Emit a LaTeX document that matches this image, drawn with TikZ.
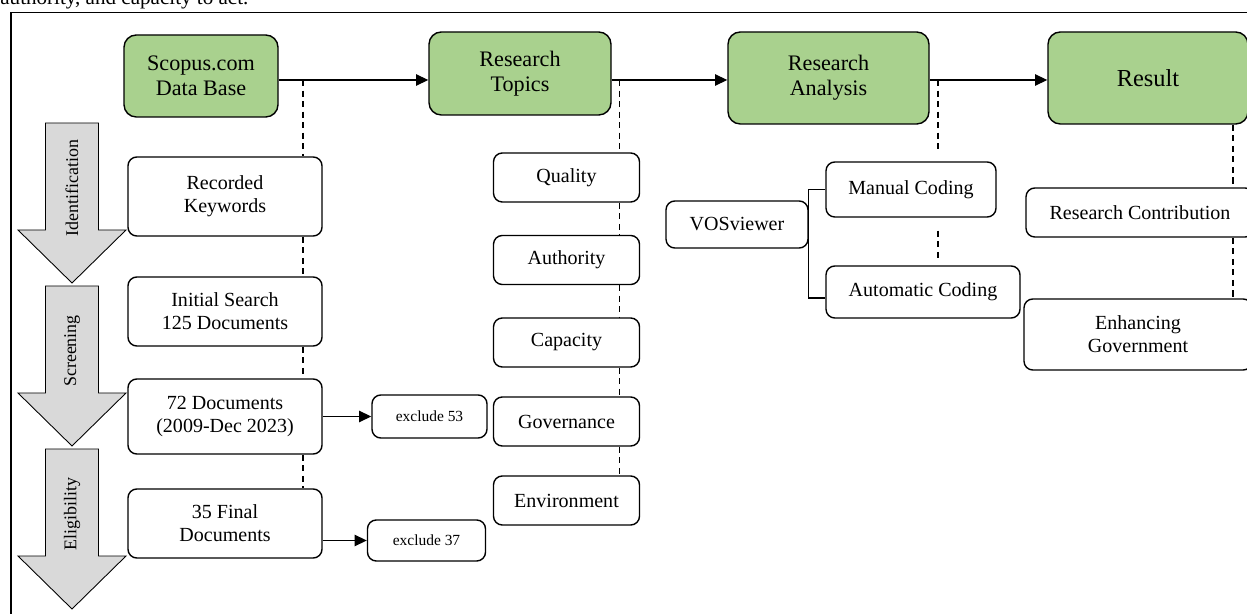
\documentclass[tikz,border=0pt]{standalone}
\usepackage{fontspec}
\setmainfont{Liberation Serif}
\usepackage{tikz}
\usetikzlibrary{arrows.meta, positioning}
\usepackage{xcolor}
\definecolor{phasegreen}{RGB}{169,209,142}
\definecolor{stagegray}{RGB}{217,217,217}

\begin{document}
\begin{tikzpicture}[node distance=1.5cm, auto, font=\fontsize{11.4}{13.2}\selectfont]
    % Styles
    \tikzstyle{phase} = [rectangle, draw, line width=0.8pt, fill=phasegreen, align=center, rounded corners=7pt, inner sep=2pt, font=\fontsize{12.6}{14.2}\selectfont]
    \tikzstyle{block} = [rectangle, draw, line width=0.8pt, fill=white, align=center, rounded corners=5pt, inner sep=2pt]
    \tikzstyle{docbox} = [block, minimum width=3.88cm]
    \tikzstyle{topicbox} = [block, minimum width=2.92cm, minimum height=0.98cm]
    \tikzstyle{small} = [block, font=\fontsize{8.8}{10.5}\selectfont]
    \tikzstyle{line} = [draw, line width=0.7pt, -{Triangle[length=7pt,width=6.5pt]}]
    \tikzstyle{link} = [draw, line width=0.7pt, dash pattern=on 3.5pt off 2.5pt]
    \tikzstyle{stage} = [draw, line width=0.5pt, fill=stagegray]

    \useasboundingbox (0,0) rectangle (24.94,-12.28);

    % Caption and frame
    \node [anchor=base west, inner sep=0pt, font=\fontsize{12}{14}\selectfont] (caption) at (0,-0.1) {authority, and capacity to act.};
    \draw [line width=1pt] (25.5,-0.25) -- (0.22,-0.25) -- (0.22,-12.6);

    % Stages
    \foreach \t/\lab in {2.46/Identification, 5.72/Screening, 8.98/Eligibility} {
        \draw [stage] (0.91,-\t) -- (1.97,-\t) -- (1.97,-\t-2.14) -- (2.52,-\t-2.14)
            -- (1.44,-\t-3.2) -- (0.36,-\t-2.14) -- (0.91,-\t-2.14) -- cycle;
        \node [rotate=90, font=\fontsize{10.2}{12}\selectfont] (stage-\lab) at (1.44,-\t-1.3) {\lab};
    }

    % Nodes
    \node [phase, minimum width=3.08cm, minimum height=1.64cm] (scopus) at (4.02,-1.52) {Scopus.com\\Data Base};
    \node [phase, minimum width=3.64cm, minimum height=1.66cm] (topics) at (10.4,-1.47) {Research\\Topics};
    \node [phase, minimum width=4.02cm, minimum height=1.84cm] (analysis) at (16.57,-1.56) {Research\\Analysis};
    \node [phase, minimum width=4.0cm, minimum height=1.84cm, font=\fontsize{13.9}{16}\selectfont] (result) at (22.96,-1.56) {Result};

    \node [docbox, minimum height=1.58cm] (recorded) at (4.5,-3.93) {Recorded\\Keywords};
    \node [docbox, below of=recorded, node distance=2.3cm, minimum height=1.38cm] (initial) {Initial Search\\125 Documents};
    \node [docbox, below of=initial, node distance=2.1cm, minimum height=1.5cm] (docs) {72 Documents\\(2009-Dec 2023)};
    \node [docbox, below of=docs, node distance=2.14cm, minimum height=1.38cm] (final) {35 Final\\Documents};
    \node [small, right of=docs, node distance=4.09cm, minimum width=2.3cm, minimum height=0.86cm] (exclude53) {exclude 53};
    \node [small, right of=final, node distance=4.03cm, yshift=-0.34cm, minimum width=2.36cm, minimum height=0.82cm] (exclude37) {exclude 37};

    \node [topicbox] (quality) at (11.33,-3.55) {Quality};
    \node [topicbox, below of=quality, node distance=1.65cm] (authority) {Authority};
    \node [topicbox, below of=authority, node distance=1.65cm] (capacity) {Capacity};
    \node [topicbox, below of=capacity, node distance=1.58cm] (governance) {Governance};
    \node [topicbox, below of=governance, node distance=1.58cm] (environment) {Environment};

    \node [block, minimum width=2.84cm, minimum height=0.94cm] (vos) at (14.74,-4.49) {VOSviewer};
    \node [block, minimum width=3.4cm, minimum height=1.1cm] (manual) at (18.22,-3.79) {Manual Coding};
    \node [block, minimum width=3.88cm, minimum height=1.04cm] (automatic) at (18.46,-5.84) {Automatic Coding};

    \node [block, minimum width=4.56cm, minimum height=0.98cm] (contrib) at (22.8,-4.25) {Research Contribution};
    \node [block, below of=contrib, node distance=2.44cm, xshift=-0.04cm, minimum width=4.56cm, minimum height=1.42cm] (enhance) {Enhancing\\Government};

    % Edges
    \coordinate (row) at (0,-1.6);
    \path [line] (scopus.east |- row) -- (topics.west |- row);
    \path [line] (topics.east |- row) -- (analysis.west |- row);
    \path [line] (analysis.east |- row) -- (result.west |- row);
    \path [line] (docs.east |- exclude53) -- (exclude53.west);
    \path [line] (final.east |- exclude37) -- (exclude37.west);
    \draw [line width=0.7pt] (manual.west) -| (vos.east) |- ([yshift=-0.12cm]automatic.west);

    % Dashed links
    \coordinate (dashA) at (6.06,-1.6);
    \draw [link] (dashA) -- (dashA |- recorded.north);
    \foreach \a/\b in {recorded/initial, initial/docs, docs/final}
        \draw [link] (dashA |- \a.south) -- (dashA |- \b.north);

    \coordinate (dashB) at (12.39,-1.6);
    \draw [link] (dashB) -- (dashB |- quality.north);
    \foreach \a/\b in {quality/authority, authority/capacity, capacity/governance, governance/environment}
        \draw [link] (dashB |- \a.south) -- (dashB |- \b.north);

    \coordinate (dashC) at (18.76,-1.6);
    \draw [link] (dashC) -- ([yshift=0.24cm]dashC |- manual.north);
    \draw [link] ([yshift=-0.26cm]dashC |- manual.south) -- ([yshift=0.08cm]dashC |- automatic.north);

    \coordinate (dashD) at (24.66,-1.6);
    \draw [link] (dashD |- result.south) -- (dashD |- contrib.north);
    \draw [link] (dashD |- contrib.south) -- (dashD |- enhance.north);

\end{tikzpicture}
\end{document}
